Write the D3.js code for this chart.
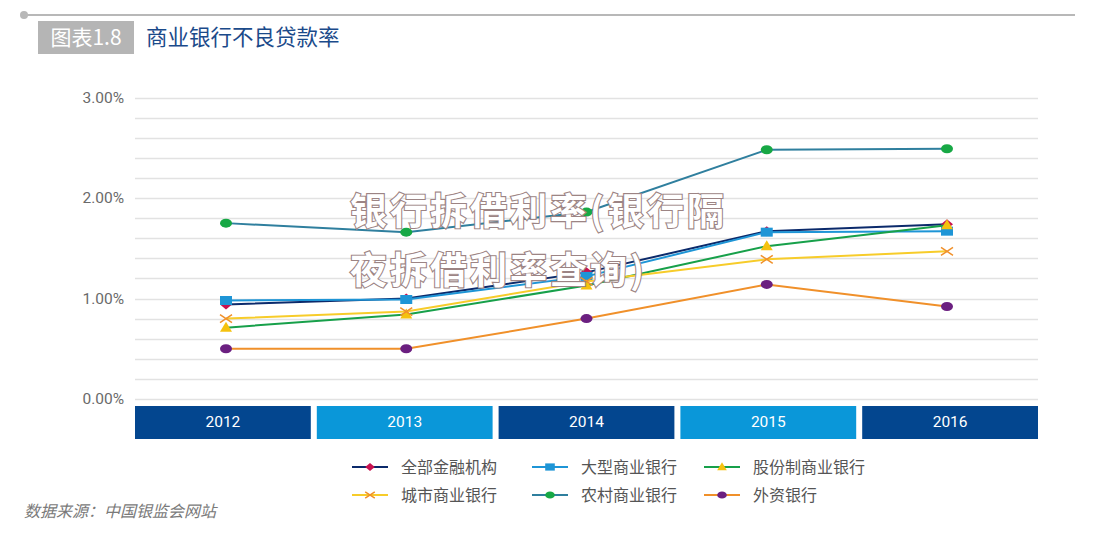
<!DOCTYPE html>
<html><head><meta charset="utf-8">
<script src="https://cdn.jsdelivr.net/npm/d3@7"></script>
<style>body{margin:0;background:#fff;}svg{display:block;font-family:"Noto Sans CJK SC","Noto Sans",sans-serif;}</style>
</head><body><svg id="c" width="1093" height="533"></svg>
<script>
const years = ["2012","2013","2014","2015","2016"];
const yTicks = [0, 1, 2, 3];
const seriesNames = ["全部金融机构","大型商业银行","股份制商业银行","城市商业银行","农村商业银行","外资银行"];
const allInst   = [0.94, 1.00, 1.26, 1.67, 1.74];
const largeBank = [0.98, 0.99, 1.22, 1.66, 1.67];
const jointBank = [0.71, 0.84, 1.13, 1.52, 1.73];
const cityBank  = [0.80, 0.87, 1.17, 1.39, 1.47];
const ruralBank = [1.75, 1.66, 1.86, 2.48, 2.49];
const foreignBank=[0.50, 0.50, 0.80, 1.14, 0.92];

const styles = [
  {line:"#0b2a6b", mark:"diamond", mfill:"#c8124f"},
  {line:"#1e95d6", mark:"square", mfill:"#1e95d6"},
  {line:"#17a04a", mark:"triangle", mfill:"#f5c20f"},
  {line:"#f7cc2a", mark:"cross", mfill:"#f0902a"},
  {line:"#2f7f9e", mark:"circle", mfill:"#17a845"},
  {line:"#f0902a", mark:"circle", mfill:"#6b1f80"}
];
const seriesVals = [allInst, largeBank, jointBank, cityBank, ruralBank, foreignBank];

const svg = d3.select("#c");
// header
svg.append("line").attr("x1",24).attr("x2",1075).attr("y1",15).attr("y2",15).attr("stroke","#b8b8b8").attr("stroke-width",2);
svg.append("circle").attr("cx",24).attr("cy",15).attr("r",4).attr("fill","#b8b8b8");
svg.append("rect").attr("x",38).attr("y",21).attr("width",96).attr("height",33).attr("fill","#b5b5b5");
svg.append("text").attr("x",86).attr("y",45).attr("text-anchor","middle").attr("fill","#fff").attr("font-size",21).text("图表1.8");
svg.append("text").attr("x",146).attr("y",45).attr("fill","#1b4a8a").attr("font-size",21.5).text("商业银行不良贷款率");

const x = d3.scaleBand().domain(years).range([135,1038]).paddingInner(0.033).paddingOuter(0);
const xp = d3.scalePoint().domain(years).range([226,947]);
const y = d3.scaleLinear().domain([0,3]).range([399,97.5]);

// grid lines every 0.2
const grid = d3.range(0, 3.01, 0.2);
svg.append("g").selectAll("line").data(grid).join("line")
  .attr("x1",135).attr("x2",1038).attr("y1",d=>Math.round(y(d))+0.5).attr("y2",d=>Math.round(y(d))+0.5)
  .attr("stroke","#e2e2e2").attr("stroke-width",1.5);

// y axis
const yAxis = d3.axisLeft(y).tickValues(yTicks).tickFormat(d=>d.toFixed(2)+"%").tickSize(0).tickPadding(10);
const gy = svg.append("g").attr("transform","translate(134,0)").call(yAxis);
gy.select(".domain").remove();
gy.selectAll("text").attr("fill","#6a6a6a").attr("font-size",15.5).attr("font-family","Roboto, 'Noto Sans', sans-serif");

// category bars
const barColors = ["#03468f","#0a97d9","#03468f","#0a97d9","#03468f"];
svg.append("g").selectAll("rect").data(years).join("rect")
  .attr("x",d=>x(d)).attr("y",406).attr("width",x.bandwidth()).attr("height",33)
  .attr("fill",(d,i)=>barColors[i]);
const xAxis = d3.axisBottom(x).tickSize(0).tickPadding(0);
const gx = svg.append("g").attr("transform","translate(0,416)").call(xAxis);
gx.select(".domain").remove();
gx.selectAll("text").attr("fill","#fff").attr("font-size",15.5).attr("font-family","'Liberation Sans Narrow','Roboto',sans-serif");

function marker(g, type, fill, cx, cy, s){
  s = s||1;
  if(type==="diamond") g.append("path").attr("d",`M${cx},${cy-5*s}L${cx+6*s},${cy}L${cx},${cy+5*s}L${cx-6*s},${cy}Z`).attr("fill",fill);
  else if(type==="square") g.append("rect").attr("x",cx-6*s).attr("y",cy-4.5*s).attr("width",12*s).attr("height",9*s).attr("fill",fill);
  else if(type==="triangle") g.append("path").attr("d",`M${cx},${cy-6*s}L${cx+6*s},${cy+4*s}L${cx-6*s},${cy+4*s}Z`).attr("fill",fill);
  else if(type==="cross") g.append("path").attr("d",`M${cx-6*s},${cy-4*s}L${cx+6*s},${cy+4*s}M${cx-6*s},${cy+4*s}L${cx+6*s},${cy-4*s}`).attr("stroke",fill).attr("stroke-width",1.5).attr("fill","none");
  else if(type==="circle") g.append("ellipse").attr("cx",cx).attr("cy",cy).attr("rx",6*s).attr("ry",4.5*s).attr("fill",fill);
}

const line = d3.line().x((d,i)=>xp(years[i])).y(d=>y(d));
seriesVals.forEach((vals,k)=>{
  const g = svg.append("g");
  g.append("path").attr("d",line(vals)).attr("fill","none").attr("stroke",styles[k].line).attr("stroke-width",2);
  vals.forEach((v,i)=>marker(g, styles[k].mark, styles[k].mfill, xp(years[i]), y(v)));
});

// legend
const legX = [352, 532, 704];
const legY = [467, 495];
seriesNames.forEach((n,k)=>{
  const lx = legX[k%3], ly = legY[Math.floor(k/3)];
  const g = svg.append("g");
  g.append("line").attr("x1",lx).attr("x2",lx+36).attr("y1",ly).attr("y2",ly).attr("stroke",styles[k].line).attr("stroke-width",2);
  marker(g, styles[k].mark, styles[k].mfill, lx+18, ly, 0.8);
  g.append("text").attr("x",lx+49).attr("y",ly+5.5).attr("fill","#555").attr("font-size",16).text(n);
});

// source
svg.append("text").attr("x",24).attr("y",517).attr("fill","#7a7a7a").attr("font-size",16).attr("font-style","italic").text("数据来源：中国银监会网站");

// overlay watermark text
const wm = svg.append("g").attr("font-size",37).attr("font-weight","bold").attr("fill","#fff").attr("stroke","#9c8484").attr("stroke-width",2.2).attr("paint-order","stroke").attr("letter-spacing",3);
wm.append("text").attr("x",350).attr("y",225).text("银行拆借利率(银行隔");
wm.append("text").attr("x",350).attr("y",284).text("夜拆借利率查询)");
</script></body></html>
